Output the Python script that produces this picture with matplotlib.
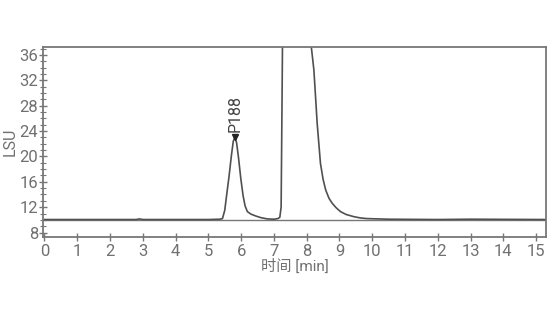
import matplotlib
matplotlib.use("Agg")
import matplotlib.pyplot as plt
from matplotlib.ticker import MultipleLocator

plt.rcParams['font.family'] = ['Roboto', 'Noto Sans CJK SC', 'DejaVu Sans']

# chromatogram trace (time in min, signal in LSU)
time = [0.0, 2.8, 2.9, 3.0, 5.0, 5.35, 5.43, 5.5, 5.56, 5.63, 5.7, 5.76, 5.81,
        5.86, 5.92, 5.99, 6.06, 6.12, 6.19, 6.3, 6.45, 6.6, 6.8, 7.0, 7.12,
        7.18, 7.22, 7.25, 7.28, 8.05, 8.14, 8.22, 8.32, 8.42, 8.5, 8.58, 8.68,
        8.78, 8.9, 9.03, 9.2, 9.44, 9.64, 9.84, 10.5, 12.0, 13.0, 15.3]
signal = [10.05, 10.05, 10.15, 10.05, 10.05, 10.1, 10.2, 11.5, 14.0, 16.8, 20.0,
          22.4, 23.0, 22.2, 19.8, 16.5, 13.8, 12.2, 11.3, 10.9, 10.6, 10.35,
          10.15, 10.1, 10.2, 10.4, 12.0, 30.0, 50.0, 45.0, 37.3, 33.6, 25.2,
          18.9, 16.4, 14.7, 13.4, 12.6, 11.9, 11.3, 10.85, 10.5, 10.3, 10.2,
          10.1, 10.05, 10.1, 10.05]

baseline_level = 10.05
peak_name = "P188"
peak_time = 5.81
peak_height = 23.0

fig = plt.figure(figsize=(5.54, 3.11), dpi=100)
ax = fig.add_axes([0.0785, 0.238, 0.907, 0.612])

ax.axhline(baseline_level, color='#777777', lw=1.0)
ax.plot(time, signal, color='#505050', lw=1.2)

# peak label
ax.plot([peak_time], [peak_height], marker='v', color='#222222', ms=4.5)
ax.text(peak_time, peak_height + 0.9, peak_name, rotation=90, ha='center',
        va='bottom', fontsize=11.5, color='#444444')

ax.set_xlim(-0.03, 15.3)
ax.set_ylim(7.3, 37.3)
ax.xaxis.set_major_locator(MultipleLocator(1))
ax.yaxis.set_major_locator(MultipleLocator(4))
ax.yaxis.set_minor_locator(MultipleLocator(1))

for s in ax.spines.values():
    s.set_color('#777777')
    s.set_linewidth(1.3)

ax.tick_params(axis='both', which='major', direction='inout', length=6,
               width=1.0, color='#777777', labelcolor='#707070', labelsize=12)
ax.tick_params(axis='x', which='major', pad=2)
ax.tick_params(axis='y', which='major', pad=1)
ax.tick_params(axis='y', which='minor', direction='inout', length=4,
               width=0.8, color='#777777')

ax.set_xlabel('时间 [min]', fontsize=11, color='#707070', labelpad=0)
ax.set_ylabel('LSU', fontsize=11.5, color='#707070', labelpad=1)

fig.savefig('out.png', dpi=100)
